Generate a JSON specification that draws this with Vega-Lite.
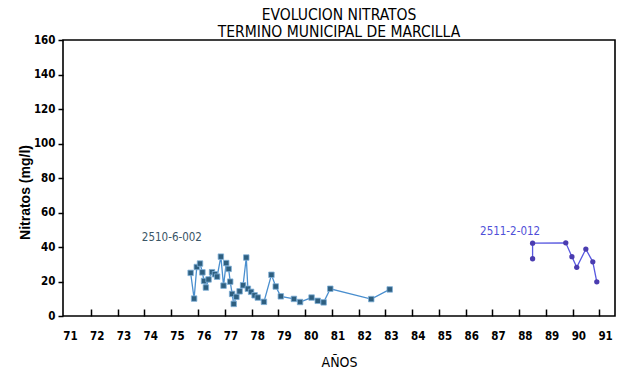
{
  "$schema": "https://vega.github.io/schema/vega-lite/v6.json",
  "width": 552,
  "height": 276,
  "autosize": {"type": "none"},
  "padding": {"left": 63, "top": 40, "right": 11, "bottom": 54},
  "background": "white",
  "title": {
    "text": ["EVOLUCION NITRATOS", "TERMINO MUNICIPAL DE MARCILLA"],
    "font": "Liberation Sans Narrow, DejaVu Sans Condensed, Liberation Sans, sans-serif",
    "fontSize": 15.5,
    "fontWeight": "normal",
    "lineHeight": 17,
    "offset": 2,
    "dy": 8,
    "anchor": "middle",
    "color": "black"
  },
  "config": {
    "view": {"stroke": "black", "strokeWidth": 1.6},
    "axis": {"grid": false, "labelColor": "black", "titleColor": "black", "tickColor": "black"}
  },
  "datasets": {
    "series": [
      {"serie": "2510-6-002", "orden": 1, "anio": 75.51, "nitratos": 25.0},
      {"serie": "2510-6-002", "orden": 2, "anio": 75.64, "nitratos": 10.1},
      {"serie": "2510-6-002", "orden": 3, "anio": 75.74, "nitratos": 28.4},
      {"serie": "2510-6-002", "orden": 4, "anio": 75.86, "nitratos": 30.4},
      {"serie": "2510-6-002", "orden": 5, "anio": 75.95, "nitratos": 25.3},
      {"serie": "2510-6-002", "orden": 6, "anio": 76.01, "nitratos": 20.3},
      {"serie": "2510-6-002", "orden": 7, "anio": 76.08, "nitratos": 16.5},
      {"serie": "2510-6-002", "orden": 8, "anio": 76.18, "nitratos": 21.2},
      {"serie": "2510-6-002", "orden": 9, "anio": 76.31, "nitratos": 25.4},
      {"serie": "2510-6-002", "orden": 10, "anio": 76.42, "nitratos": 24.2},
      {"serie": "2510-6-002", "orden": 11, "anio": 76.50, "nitratos": 22.8},
      {"serie": "2510-6-002", "orden": 12, "anio": 76.64, "nitratos": 34.4},
      {"serie": "2510-6-002", "orden": 13, "anio": 76.74, "nitratos": 17.6},
      {"serie": "2510-6-002", "orden": 14, "anio": 76.84, "nitratos": 30.7},
      {"serie": "2510-6-002", "orden": 15, "anio": 76.93, "nitratos": 27.3},
      {"serie": "2510-6-002", "orden": 16, "anio": 76.99, "nitratos": 19.9},
      {"serie": "2510-6-002", "orden": 17, "anio": 77.06, "nitratos": 12.8},
      {"serie": "2510-6-002", "orden": 18, "anio": 77.12, "nitratos": 7.0},
      {"serie": "2510-6-002", "orden": 19, "anio": 77.22, "nitratos": 11.1},
      {"serie": "2510-6-002", "orden": 20, "anio": 77.34, "nitratos": 14.3},
      {"serie": "2510-6-002", "orden": 21, "anio": 77.47, "nitratos": 17.8},
      {"serie": "2510-6-002", "orden": 22, "anio": 77.59, "nitratos": 33.9},
      {"serie": "2510-6-002", "orden": 23, "anio": 77.65, "nitratos": 15.8},
      {"serie": "2510-6-002", "orden": 24, "anio": 77.77, "nitratos": 14.0},
      {"serie": "2510-6-002", "orden": 25, "anio": 77.90, "nitratos": 12.0},
      {"serie": "2510-6-002", "orden": 26, "anio": 78.02, "nitratos": 10.7},
      {"serie": "2510-6-002", "orden": 27, "anio": 78.25, "nitratos": 8.2},
      {"serie": "2510-6-002", "orden": 28, "anio": 78.53, "nitratos": 23.9},
      {"serie": "2510-6-002", "orden": 29, "anio": 78.69, "nitratos": 17.1},
      {"serie": "2510-6-002", "orden": 30, "anio": 78.88, "nitratos": 11.4},
      {"serie": "2510-6-002", "orden": 31, "anio": 79.37, "nitratos": 9.9},
      {"serie": "2510-6-002", "orden": 32, "anio": 79.60, "nitratos": 8.1},
      {"serie": "2510-6-002", "orden": 33, "anio": 80.03, "nitratos": 10.7},
      {"serie": "2510-6-002", "orden": 34, "anio": 80.26, "nitratos": 8.8},
      {"serie": "2510-6-002", "orden": 35, "anio": 80.48, "nitratos": 7.9},
      {"serie": "2510-6-002", "orden": 36, "anio": 80.73, "nitratos": 15.8},
      {"serie": "2510-6-002", "orden": 37, "anio": 82.26, "nitratos": 9.8},
      {"serie": "2510-6-002", "orden": 38, "anio": 82.95, "nitratos": 15.4},
      {"serie": "2511-2-012", "orden": 1, "anio": 88.29, "nitratos": 33.2},
      {"serie": "2511-2-012", "orden": 2, "anio": 88.29, "nitratos": 42.2},
      {"serie": "2511-2-012", "orden": 3, "anio": 89.53, "nitratos": 42.4},
      {"serie": "2511-2-012", "orden": 4, "anio": 89.76, "nitratos": 34.4},
      {"serie": "2511-2-012", "orden": 5, "anio": 89.94, "nitratos": 28.2},
      {"serie": "2511-2-012", "orden": 6, "anio": 90.28, "nitratos": 38.8},
      {"serie": "2511-2-012", "orden": 7, "anio": 90.54, "nitratos": 31.4},
      {"serie": "2511-2-012", "orden": 8, "anio": 90.69, "nitratos": 19.8}
    ],
    "etiquetas": [
      {"serie": "2510-6-002", "anio": 74.81, "nitratos": 45.0},
      {"serie": "2511-2-012", "anio": 87.45, "nitratos": 48.5}
    ]
  },
  "encoding": {
    "y": {
      "field": "nitratos",
      "type": "quantitative",
      "scale": {"domain": [0, 160], "nice": false, "zero": true},
      "axis": {
        "values": [0, 20, 40, 60, 80, 100, 120, 140, 160],
        "domain": false,
        "tickSize": 5,
        "tickWidth": 1.5,
        "labelPadding": 3,
        "labelFont": "Liberation Sans Narrow, DejaVu Sans Condensed, Liberation Sans, sans-serif",
        "labelFontSize": 11.5,
        "labelFontWeight": "bold",
        "title": "Nitratos  (mg/l)",
        "titleFont": "Liberation Sans, sans-serif",
        "titleFontSize": 14,
        "titleFontWeight": "bold",
        "titleAngle": -90,
        "titleX": -31,
        "titleY": 152,
        "titleAlign": "center",
        "titleBaseline": "bottom"
      }
    }
  },
  "layer": [
    {
      "data": {"name": "series"},
      "mark": {"type": "line", "strokeWidth": 1.3},
      "encoding": {
        "x": {
          "field": "anio",
          "type": "quantitative",
          "scale": {"domain": [70.74, 91.37], "nice": false, "zero": false},
          "axis": {
            "orient": "bottom",
            "values": [71, 72, 73, 74, 75, 76, 77, 78, 79, 80, 81, 82, 83, 84, 85, 86, 87, 88, 89, 90, 91],
            "ticks": false,
            "domain": false,
            "labelPadding": 14,
            "labelFont": "Liberation Sans Narrow, DejaVu Sans Condensed, Liberation Sans, sans-serif",
            "labelFontSize": 11.5,
            "labelFontWeight": "bold",
            "title": "AÑOS",
            "titleFont": "Liberation Sans Narrow, DejaVu Sans Condensed, Liberation Sans, sans-serif",
            "titleFontSize": 14,
            "titleFontWeight": "normal",
            "titleY": 39,
            "titleBaseline": "top"
          }
        },
        "color": {
          "field": "serie",
          "type": "nominal",
          "scale": {"domain": ["2510-6-002", "2511-2-012"], "range": ["#4a8fcf", "#5858e0"]},
          "legend": null
        },
        "order": {"field": "orden", "type": "quantitative"}
      }
    },
    {
      "data": {"name": "series"},
      "transform": [{"filter": "datum.serie === '2510-6-002'"}],
      "mark": {"type": "square", "size": 30, "filled": true, "color": "#2e5f80", "stroke": "#7fb0d8", "strokeWidth": 0.8, "opacity": 1},
      "encoding": {
        "x": {
          "field": "anio",
          "type": "quantitative",
          "scale": {"domain": [70.74, 91.37], "nice": false, "zero": false},
          "axis": {
            "orient": "bottom",
            "values": [71.785, 72.785, 73.785, 74.785, 75.785, 76.785, 77.785, 78.785, 79.785, 80.785, 81.785, 82.785, 83.785, 84.785, 85.785, 86.785, 87.785, 88.785, 89.785, 90.785],
            "labels": false,
            "domain": false,
            "ticks": true,
            "tickSize": -7,
            "tickWidth": 1.5,
            "title": null
          }
        }
      }
    },
    {
      "data": {"name": "series"},
      "transform": [{"filter": "datum.serie === '2511-2-012'"}],
      "mark": {"type": "circle", "size": 28, "color": "#4a3cb0", "opacity": 1},
      "encoding": {
        "x": {
          "field": "anio",
          "type": "quantitative",
          "scale": {"domain": [70.74, 91.37], "nice": false, "zero": false},
          "axis": null
        }
      }
    },
    {
      "data": {"name": "etiquetas"},
      "mark": {"type": "text", "font": "Liberation Sans Narrow, DejaVu Sans Condensed, Liberation Sans, sans-serif", "fontSize": 11.5, "fontWeight": "normal", "align": "center", "baseline": "middle"},
      "encoding": {
        "x": {
          "field": "anio",
          "type": "quantitative",
          "scale": {"domain": [70.74, 91.37], "nice": false, "zero": false},
          "axis": null
        },
        "text": {"field": "serie", "type": "nominal"},
        "color": {
          "field": "serie",
          "type": "nominal",
          "scale": {"domain": ["2510-6-002", "2511-2-012"], "range": ["#3a5566", "#4f4fd8"]},
          "legend": null
        }
      }
    }
  ],
  "resolve": {"axis": {"x": "independent"}, "scale": {"color": "independent"}}
}
